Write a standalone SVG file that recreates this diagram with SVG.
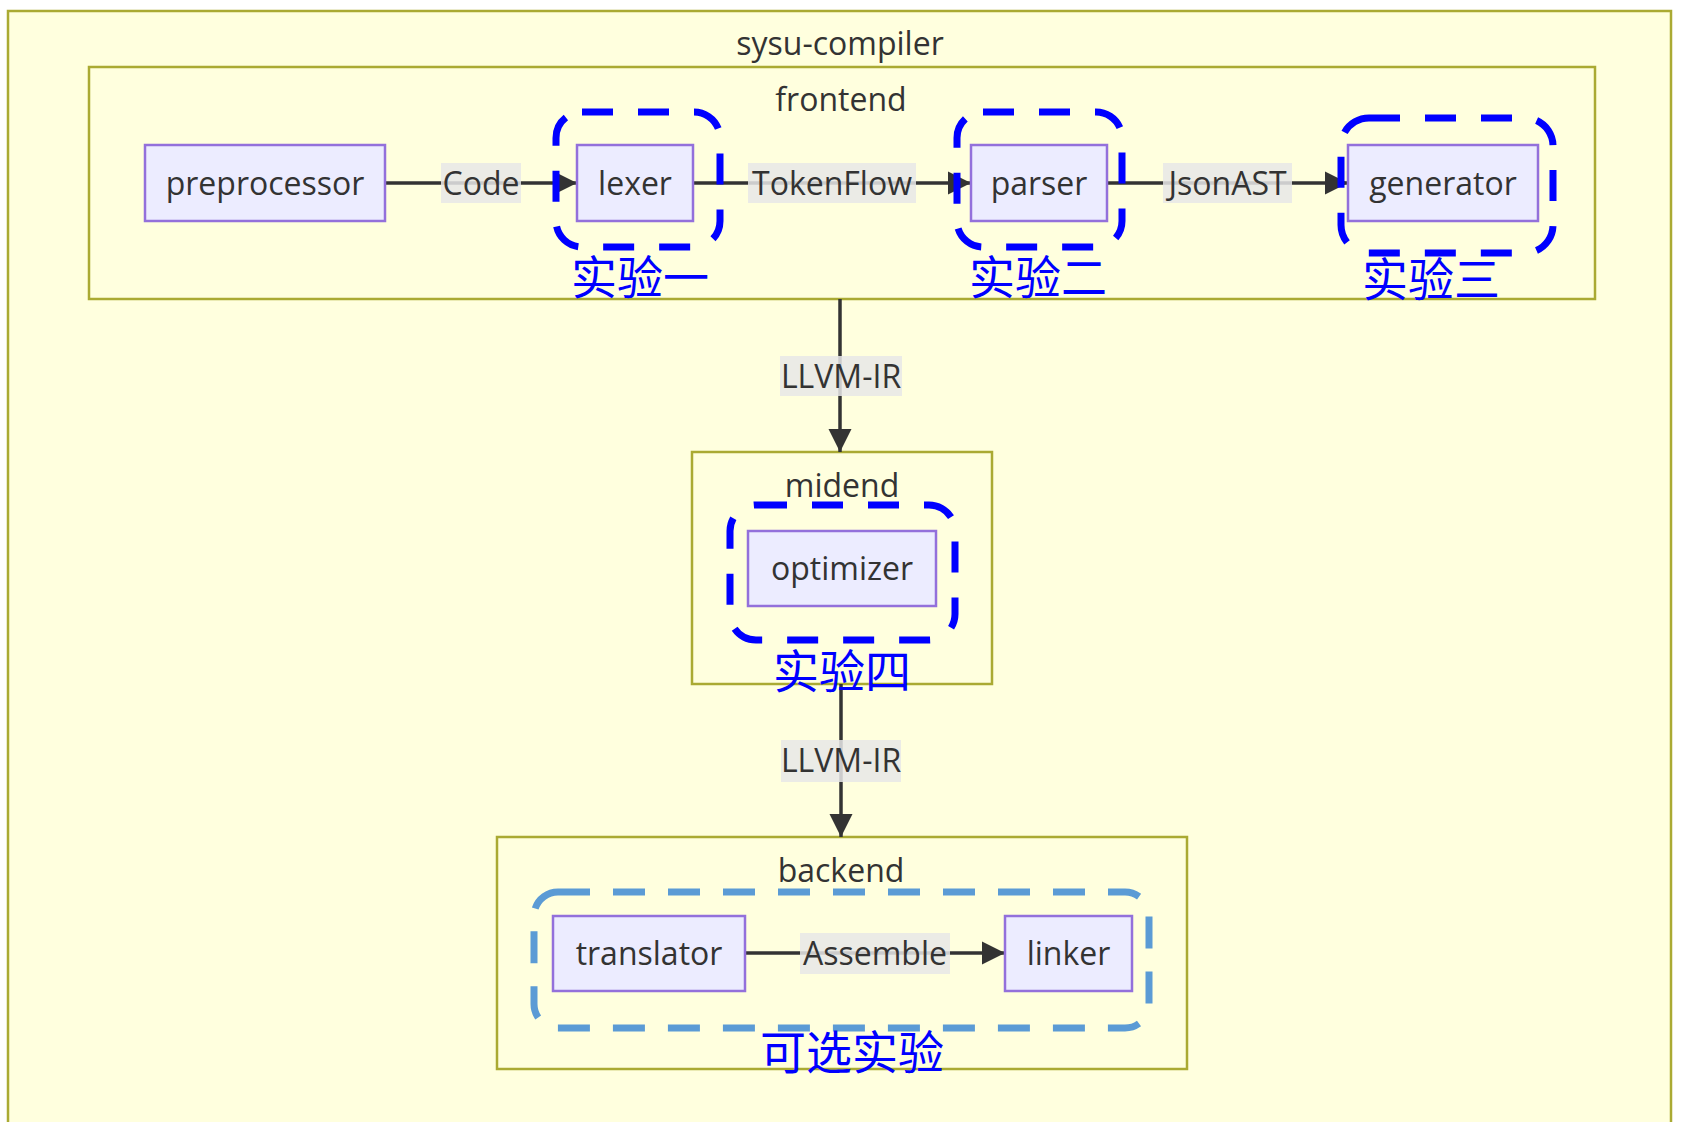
<svg xmlns="http://www.w3.org/2000/svg" width="1681" height="1122" viewBox="0 0 1681 1122">
<defs>
<style>
.cluster{fill:#ffffde;stroke:#aaaa33;stroke-width:2.5}
.node rect{fill:#ececff;stroke:#9370db;stroke-width:2.5}
.lbl{font-family:"Open Sans","Noto Sans",sans-serif;font-size:32px;fill:#333;text-anchor:middle}
.edge{stroke:#333;stroke-width:3.5;fill:none}
.ebg{fill:#e8e8e8;opacity:0.85}
.exp{fill:none;stroke:#0000ff;stroke-width:7;stroke-dasharray:31 25}
.opt{fill:none;stroke:#5b9bd5;stroke-width:7;stroke-dasharray:32 23}
.cjk{font-family:"Noto Sans CJK SC",sans-serif;font-size:46px;fill:#0000ff}
</style>
<marker id="arrow" viewBox="0 0 10 10" refX="10" refY="5" markerWidth="23" markerHeight="26" markerUnits="userSpaceOnUse" orient="auto">
<path d="M0,0 L10,5 L0,10 z" fill="#333"/>
</marker>
</defs>
<rect x="0" y="0" width="1681" height="1122" fill="#ffffff"/>
<g id="sysu-compiler">
<rect class="cluster" x="8" y="11" width="1663" height="1130"/>
<text class="lbl" x="840" y="55">sysu-compiler</text>
</g>
<g id="frontend">
<rect class="cluster" x="89" y="67" width="1506" height="232"/>
<text class="lbl" x="841" y="111">frontend</text>
</g>
<g id="midend">
<rect class="cluster" x="692" y="452" width="300" height="232"/>
<text class="lbl" x="842" y="497">midend</text>
</g>
<g id="backend">
<rect class="cluster" x="497" y="837" width="690" height="232"/>
<text class="lbl" x="841" y="882">backend</text>
</g>
<g id="connectors">
<path class="edge" d="M385,183 L577,183" marker-end="url(#arrow)"/>
<path class="edge" d="M693,183 L971,183" marker-end="url(#arrow)"/>
<path class="edge" d="M1107,183 L1348,183" marker-end="url(#arrow)"/>
<path class="edge" d="M840,299 L840,452" marker-end="url(#arrow)"/>
<path class="edge" d="M841,684 L841,837" marker-end="url(#arrow)"/>
<path class="edge" d="M745,953 L1005,953" marker-end="url(#arrow)"/>
<rect class="ebg" x="441" y="163" width="80" height="40"/>
<text class="lbl" x="481" y="195">Code</text>
<rect class="ebg" x="748" y="163" width="168" height="40"/>
<text class="lbl" x="832" y="195">TokenFlow</text>
<rect class="ebg" x="1163" y="163" width="129" height="40"/>
<text class="lbl" x="1227.5" y="195">JsonAST</text>
<rect class="ebg" x="780" y="356" width="122" height="40"/>
<text class="lbl" x="841" y="388">LLVM-IR</text>
<rect class="ebg" x="781" y="740" width="120" height="42"/>
<text class="lbl" x="841" y="772">LLVM-IR</text>
<rect class="ebg" x="800" y="933" width="150" height="41"/>
<text class="lbl" x="875" y="965">Assemble</text>
</g>
<g id="preprocessor" class="node">
<rect x="145" y="145" width="240" height="76"/>
<text class="lbl" x="265" y="195">preprocessor</text>
</g>
<g id="lexer" class="node">
<rect x="577" y="145" width="116" height="76"/>
<text class="lbl" x="635" y="195">lexer</text>
</g>
<g id="parser" class="node">
<rect x="971" y="145" width="136" height="76"/>
<text class="lbl" x="1039" y="195">parser</text>
</g>
<g id="generator" class="node">
<rect x="1348" y="145" width="190" height="76"/>
<text class="lbl" x="1443" y="195">generator</text>
</g>
<g id="optimizer" class="node">
<rect x="748" y="531" width="188" height="75"/>
<text class="lbl" x="842" y="580">optimizer</text>
</g>
<g id="translator" class="node">
<rect x="553" y="916" width="192" height="75"/>
<text class="lbl" x="649" y="965">translator</text>
</g>
<g id="linker" class="node">
<rect x="1005" y="916" width="127" height="75"/>
<text class="lbl" x="1068.5" y="965">linker</text>
</g>
<g id="exp1">
<rect class="exp" x="556" y="112" width="164" height="135" rx="26"/>
<text class="cjk" x="571" y="294">实验一</text>
</g>
<g id="exp2">
<rect class="exp" x="957" y="112" width="165" height="135" rx="26"/>
<text class="cjk" x="969" y="294">实验二</text>
</g>
<g id="exp3">
<rect class="exp" x="1341" y="118" width="212" height="135" rx="28"/>
<text class="cjk" x="1362" y="296">实验三</text>
</g>
<g id="exp4">
<rect class="exp" x="730" y="505" width="225" height="135" rx="26"/>
<text class="cjk" x="773" y="688">实验四</text>
</g>
<g id="optional">
<rect class="opt" x="534" y="892" width="615" height="136" rx="24"/>
<text class="cjk" x="760" y="1069">可选实验</text>
</g>
</svg>
